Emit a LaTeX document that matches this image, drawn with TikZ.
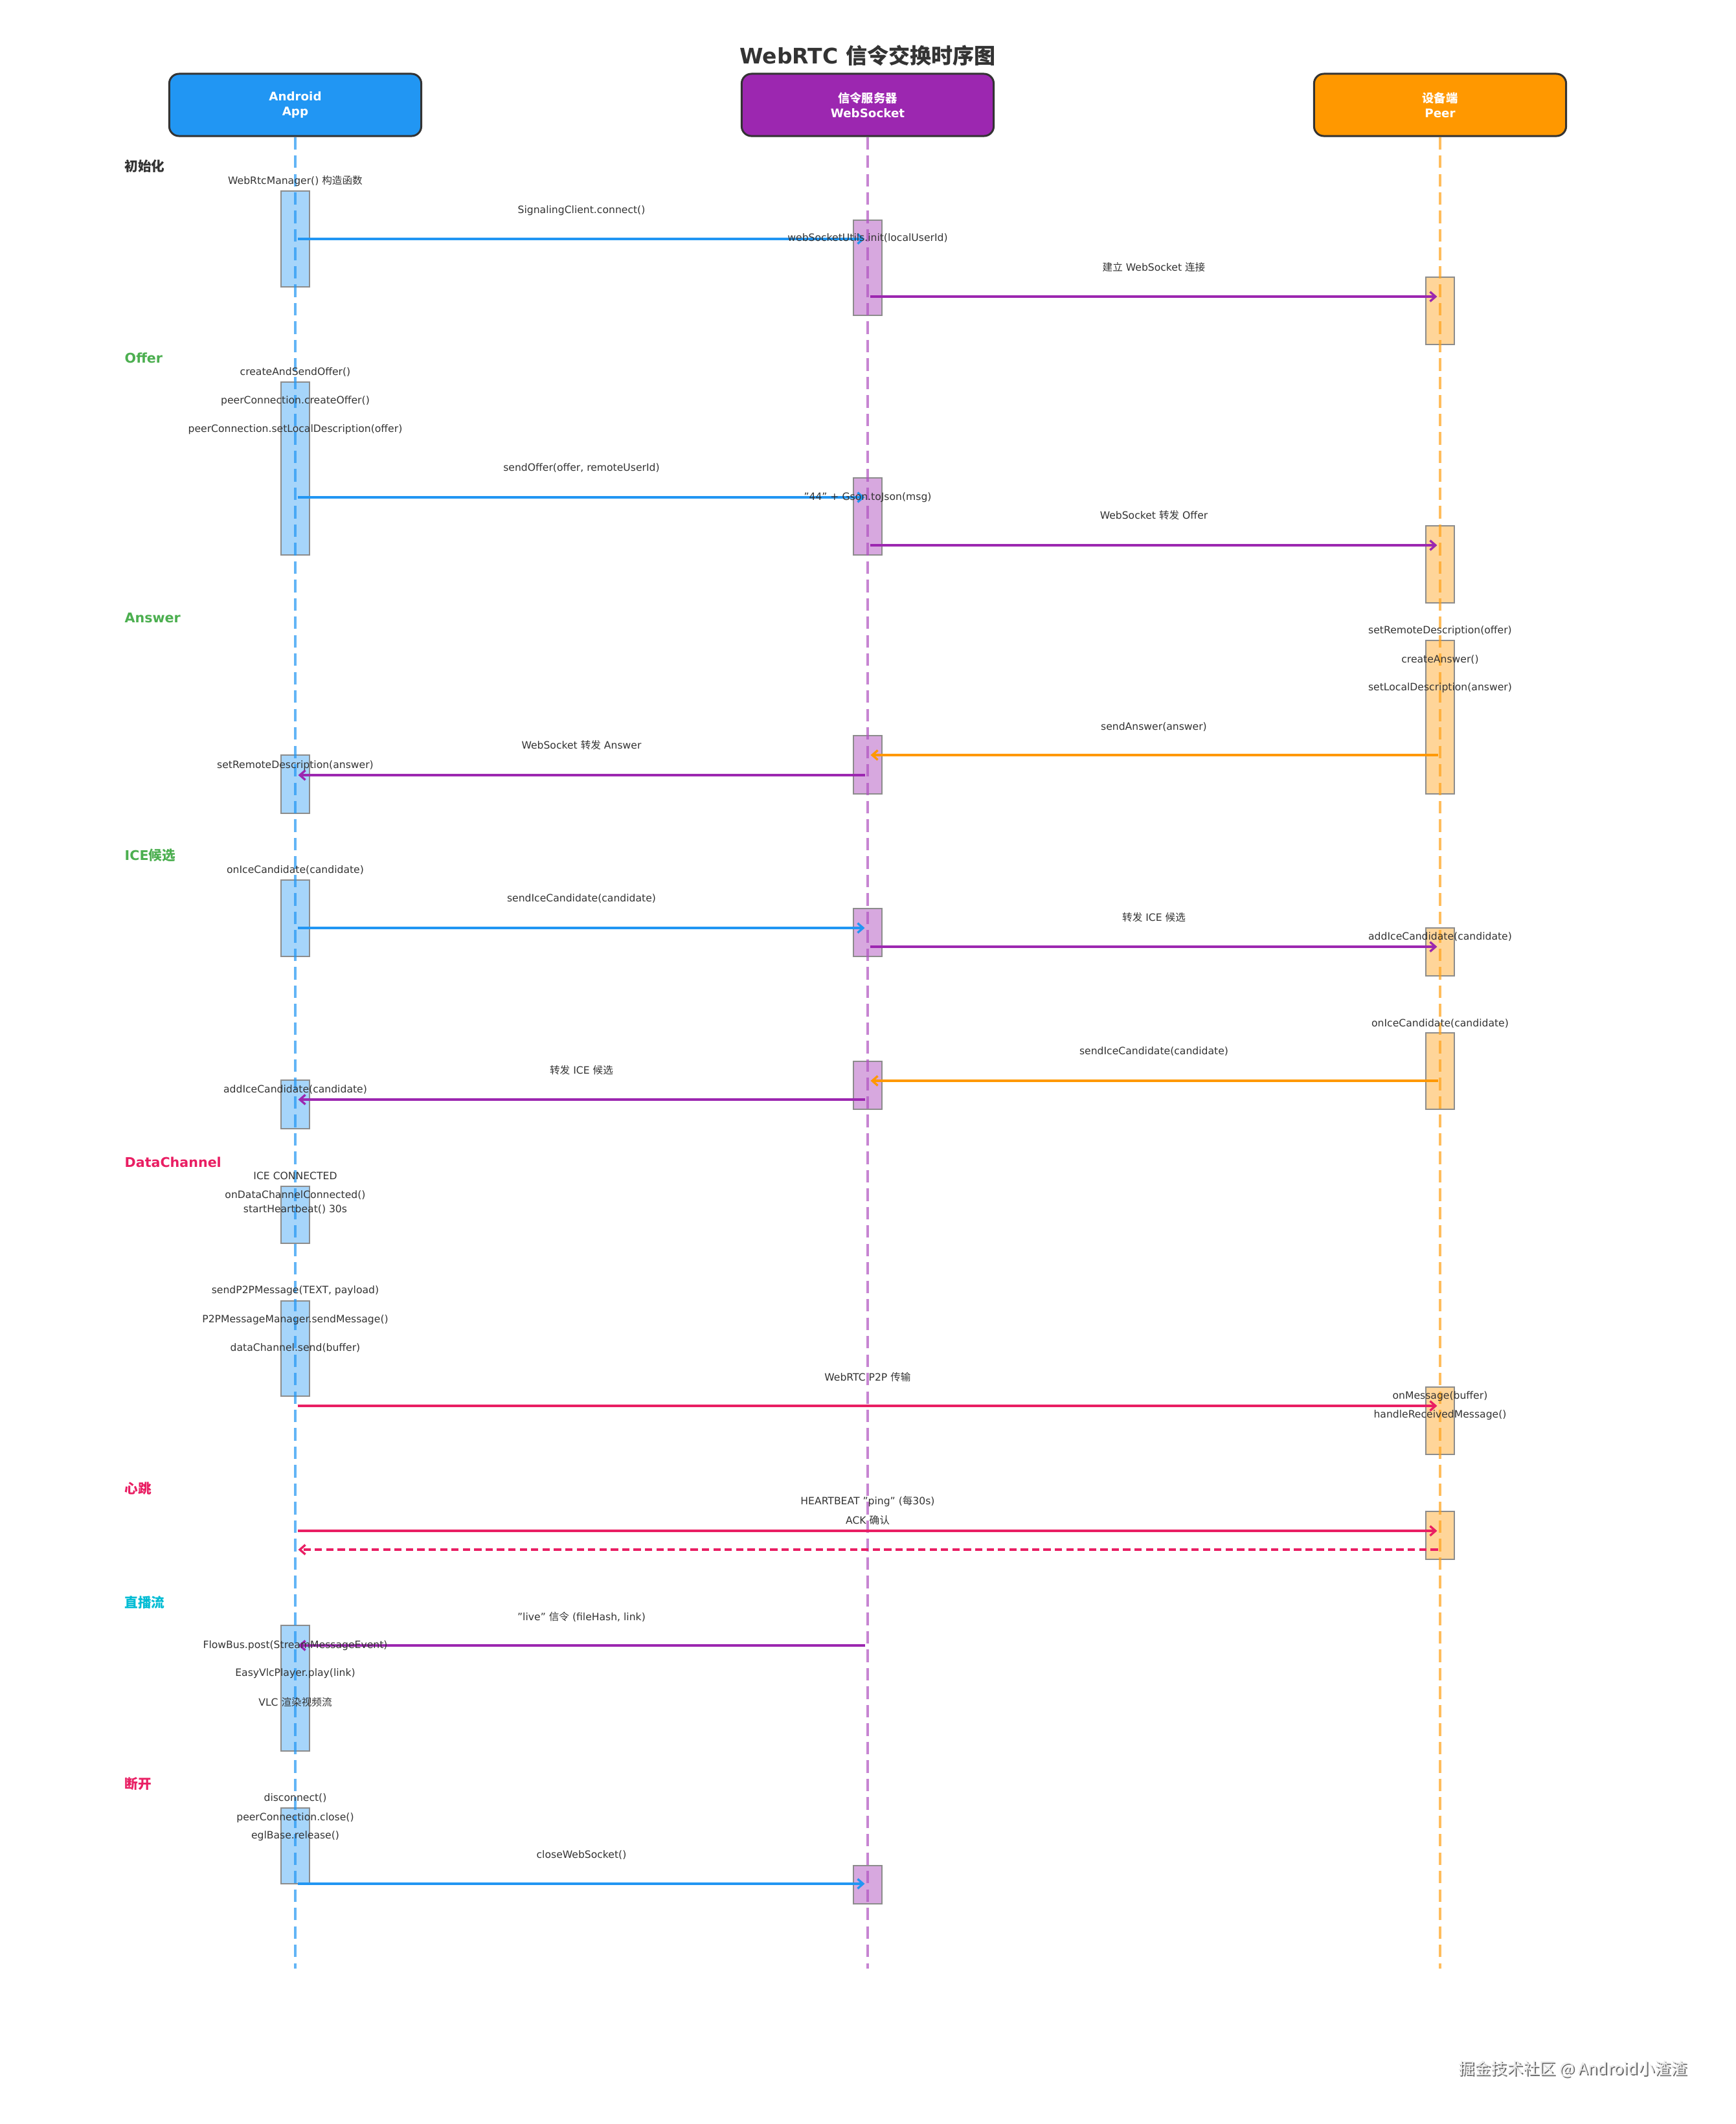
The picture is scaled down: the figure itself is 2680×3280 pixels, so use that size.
\documentclass[tikz,border=0pt]{standalone}
\usepackage{fontspec}
\setmainfont{DejaVu Sans}
\newfontfamily\zhfont{Noto Sans CJK SC}
\newcommand\zh[1]{{\zhfont #1}}
\newcommand\qt{\symbol{34}}
\usetikzlibrary{arrows.meta}
\definecolor{cblue}{HTML}{2196F3}
\definecolor{cpurple}{HTML}{9C27B0}
\definecolor{corange}{HTML}{FF9800}
\definecolor{cpink}{HTML}{E91E63}
\definecolor{cgreen}{HTML}{4CAF50}
\definecolor{ccyan}{HTML}{00BCD4}
\definecolor{ctext}{HTML}{333333}

\begin{document}
\begin{tikzpicture}[x=0.01cm,y=-0.01cm,
    every node/.style={inner sep=0pt,text=ctext,font=\fontsize{4.44}{5.3}\selectfont},
    party/.style={draw=ctext,line width=0.85pt,rounded corners=0.15cm,minimum width=3.89cm,
      minimum height=0.96cm,text=white,align=center,font=\bfseries\fontsize{5.2}{6.5}\selectfont},
    sect/.style={anchor=west,font=\bfseries\fontsize{5.87}{7}\selectfont},
    life/.style={line width=1.15pt,dash pattern=on 5.5pt off 2.6pt,draw opacity=0.7},
    act/.style={fill opacity=0.4,draw=black!45,line width=0.55pt},
    msg/.style={line width=0.95pt,-{Straight Barb[length=2.4pt,width=4.2pt]},
      shorten <=1pt,shorten >=1.3pt}]
    \fill[white] (0,0) rectangle (2680,3280);
    \useasboundingbox (0,0) rectangle (2680,3280);

    % title and participants
    \node[font=\bfseries\fontsize{9.4}{11}\selectfont] (title) at (1340,86) {WebRTC \zh{信令交换时序图}};
    \node[party,fill=cblue] (app) at (456,162) {Android\\App};
    \node[party,fill=cpurple] (srv) at (1340,162) {\zh{信令服务器}\\WebSocket};
    \node[party,fill=corange] (peer) at (2224,162) {\zh{设备端}\\Peer};
    \coordinate (append) at (456,3040);
    \coordinate (srvend) at (1340,3040);
    \coordinate (peerend) at (2224,3040);

    % activation bars
    \draw[act,fill=cblue] (434,295) rectangle (478,443);
    \draw[act,fill=cblue] (434,590) rectangle (478,857);
    \draw[act,fill=cblue] (434,1166) rectangle (478,1256);
    \draw[act,fill=cblue] (434,1359) rectangle (478,1477);
    \draw[act,fill=cblue] (434,1668) rectangle (478,1743);
    \draw[act,fill=cblue] (434,1832) rectangle (478,1920);
    \draw[act,fill=cblue] (434,2009) rectangle (478,2156);
    \draw[act,fill=cblue] (434,2510) rectangle (478,2704);
    \draw[act,fill=cblue] (434,2792) rectangle (478,2909);
    \draw[act,fill=cpurple] (1318,340) rectangle (1362,487);
    \draw[act,fill=cpurple] (1318,738) rectangle (1362,857);
    \draw[act,fill=cpurple] (1318,1136) rectangle (1362,1226);
    \draw[act,fill=cpurple] (1318,1403) rectangle (1362,1477);
    \draw[act,fill=cpurple] (1318,1639) rectangle (1362,1713);
    \draw[act,fill=cpurple] (1318,2881) rectangle (1362,2940);
    \draw[act,fill=corange] (2202,428) rectangle (2246,532);
    \draw[act,fill=corange] (2202,812) rectangle (2246,931);
    \draw[act,fill=corange] (2202,989) rectangle (2246,1226);
    \draw[act,fill=corange] (2202,1433) rectangle (2246,1507);
    \draw[act,fill=corange] (2202,1595) rectangle (2246,1713);
    \draw[act,fill=corange] (2202,2142) rectangle (2246,2246);
    \draw[act,fill=corange] (2202,2334) rectangle (2246,2408);

    % lifelines
    \draw[life,cblue] (app.south) -- (append);
    \draw[life,cpurple!80] (srv.south) -- (srvend);
    \draw[life,corange!90] (peer.south) -- (peerend);

    % messages
    \draw[msg,cblue] (app |- 0,369) -- (srv |- 0,369);
    \draw[msg,cpurple] (srv |- 0,458) -- (peer |- 0,458);
    \draw[msg,cblue] (app |- 0,768) -- (srv |- 0,768);
    \draw[msg,cpurple] (srv |- 0,842) -- (peer |- 0,842);
    \draw[msg,corange] (peer |- 0,1166) -- (srv |- 0,1166);
    \draw[msg,cpurple] (srv |- 0,1197) -- (app |- 0,1197);
    \draw[msg,cblue] (app |- 0,1433) -- (srv |- 0,1433);
    \draw[msg,cpurple] (srv |- 0,1462) -- (peer |- 0,1462);
    \draw[msg,corange] (peer |- 0,1669) -- (srv |- 0,1669);
    \draw[msg,cpurple] (srv |- 0,1698) -- (app |- 0,1698);
    \draw[msg,cpink] (app |- 0,2171) -- (peer |- 0,2171);
    \draw[msg,cpink] (app |- 0,2364) -- (peer |- 0,2364);
    \draw[msg,cpink,dash pattern=on 3.2pt off 1.8pt] (peer |- 0,2393) -- (app |- 0,2393);
    \draw[msg,cpurple] (srv |- 0,2541) -- (app |- 0,2541);
    \draw[msg,cblue] (app |- 0,2909) -- (srv |- 0,2909);

    % phases
    \node[sect] (s1) at (192,257) {\zh{初始化}};
    \node[sect,text=cgreen] (s2) at (192,553) {Offer};
    \node[sect,text=cgreen] (s3) at (192,954) {Answer};
    \node[sect,text=cgreen] (s4) at (192,1321) {ICE\zh{候选}};
    \node[sect,text=cpink] (s5) at (192,1795) {DataChannel};
    \node[sect,text=cpink] (s6) at (192,2299) {\zh{心跳}};
    \node[sect,text=ccyan] (s7) at (192,2475) {\zh{直播流}};
    \node[sect,text=cpink] (s8) at (192,2755) {\zh{断开}};

    % labels
    \node (t1) at (456,280) {WebRtcManager() \zh{构造函数}};
    \node (t2) at (898,325) {SignalingClient.connect()};
    \node (t3) at (1340,368) {webSocketUtils.init(localUserId)};
    \node (t4) at (1782,413) {\zh{建立} WebSocket \zh{连接}};
    \node (t5) at (456,575) {createAndSendOffer()};
    \node (t6) at (456,619) {peerConnection.createOffer()};
    \node (t7) at (456,663) {peerConnection.setLocalDescription(offer)};
    \node (t8) at (898,723) {sendOffer(offer, remoteUserId)};
    \node (t9) at (1340,768) {\qt44\qt{} + Gson.toJson(msg)};
    \node (t10) at (1782,796) {WebSocket \zh{转发} Offer};
    \node (t11) at (2224,974) {setRemoteDescription(offer)};
    \node (t12) at (2224,1019) {createAnswer()};
    \node (t13) at (2224,1062) {setLocalDescription(answer)};
    \node (t14) at (1782,1123) {sendAnswer(answer)};
    \node (t15) at (898,1151) {WebSocket \zh{转发} Answer};
    \node (t16) at (456,1182) {setRemoteDescription(answer)};
    \node (t17) at (456,1344) {onIceCandidate(candidate)};
    \node (t18) at (898,1388) {sendIceCandidate(candidate)};
    \node (t19) at (1782,1417) {\zh{转发} ICE \zh{候选}};
    \node (t20) at (2224,1447) {addIceCandidate(candidate)};
    \node (t21) at (2224,1581) {onIceCandidate(candidate)};
    \node (t22) at (1782,1624) {sendIceCandidate(candidate)};
    \node (t23) at (898,1653) {\zh{转发} ICE \zh{候选}};
    \node (t24) at (456,1683) {addIceCandidate(candidate)};
    \node (t25) at (456,1816) {ICE CONNECTED};
    \node (t26) at (456,1846) {onDataChannelConnected()};
    \node (t27) at (456,1868) {startHeartbeat() 30s};
    \node (t28) at (456,1993) {sendP2PMessage(TEXT, payload)};
    \node (t29) at (456,2038) {P2PMessageManager.sendMessage()};
    \node (t30) at (456,2082) {dataChannel.send(buffer)};
    \node (t31) at (1340,2127) {WebRTC P2P \zh{传输}};
    \node (t32) at (2224,2156) {onMessage(buffer)};
    \node (t33) at (2224,2185) {handleReceivedMessage()};
    \node (t34) at (1340,2318) {HEARTBEAT \qt ping\qt{} (\zh{每}30s)};
    \node (t35) at (1340,2348) {ACK \zh{确认}};
    \node (t36) at (898,2497) {\qt live\qt{} \zh{信令} (fileHash, link)};
    \node (t37) at (456,2541) {FlowBus.post(StreamMessageEvent)};
    \node (t38) at (456,2584) {EasyVlcPlayer.play(link)};
    \node (t39) at (456,2629) {VLC \zh{渲染视频流}};
    \node (t40) at (456,2777) {disconnect()};
    \node (t41) at (456,2807) {peerConnection.close()};
    \node (t42) at (456,2835) {eglBase.release()};
    \node (t43) at (898,2865) {closeWebSocket()};

    % watermark
    \node[font=\zhfont\fontsize{7.1}{8.5}\selectfont,text=black!60] (wmshade) at (2431,3197) {掘金技术社区 @ Android小渣渣};
    \node[font=\zhfont\fontsize{7.1}{8.5}\selectfont,text=black!7] (wm) at (2429,3195) {掘金技术社区 @ Android小渣渣};
\end{tikzpicture}
\end{document}
